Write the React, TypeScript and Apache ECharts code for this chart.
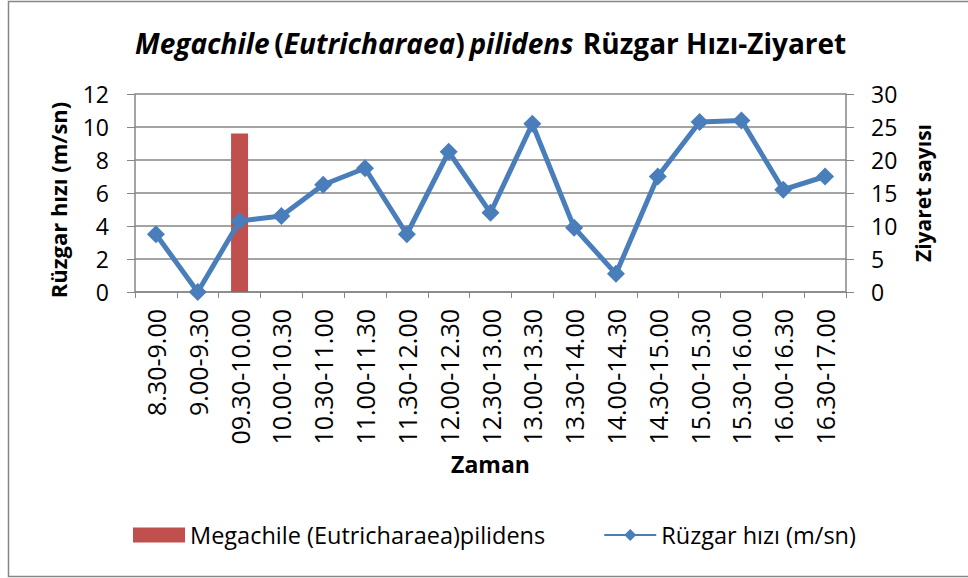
import React, { useEffect, useRef } from "react";
import * as echarts from "echarts";

const categories = [
  "8.30-9.00", "9.00-9.30", "09.30-10.00", "10.00-10.30", "10.30-11.00",
  "11.00-11.30", "11.30-12.00", "12.00-12.30", "12.30-13.00", "13.00-13.30",
  "13.30-14.00", "14.00-14.30", "14.30-15.00", "15.00-15.30", "15.30-16.00",
  "16.00-16.30", "16.30-17.00",
];
const visits: (number | string)[] = [
  "-", "-", 24, "-", "-", "-", "-", "-", "-", "-", "-", "-", "-", "-", "-", "-", "-",
];
const windSpeed = [3.5, 0, 4.3, 4.6, 6.5, 7.5, 3.5, 8.5, 4.8, 10.2, 3.9, 1.1, 7.0, 10.3, 10.4, 6.2, 7.0];
const leftTicks = { min: 0, max: 12, interval: 2 };
const rightTicks = { min: 0, max: 30, interval: 5 };

const FONT = "Open Sans";
const GREY = "#868686";

export default function App() {
  const ref = useRef<HTMLDivElement>(null);
  useEffect(() => {
    if (!ref.current) return;
    const chart = echarts.init(ref.current, null, { renderer: "svg" });
    chart.setOption({
      animation: false,
      backgroundColor: "#fff",
      textStyle: { fontFamily: FONT, color: "#000" },
      title: {
        left: 130,
        top: 24,
        text: "{i|Megachile} {b|(}{i|Eutricharaea}{b|)} {i|pilidens}  {b|Rüzgar Hızı-Ziyaret}",
        textStyle: {
          rich: {
            i: { fontStyle: "italic", fontWeight: "bold", fontSize: 28, fontFamily: FONT, color: "#000" },
            b: { fontWeight: "bold", fontSize: 28, fontFamily: FONT, color: "#000" },
          },
        },
      },
      graphic: [
        {
          type: "rect",
          shape: { x: 8.5, y: 1.5, width: 980, height: 575 },
          style: { fill: "none", stroke: GREY, lineWidth: 1.5 },
          silent: true,
        },
      ],
      legend: {
        left: 133,
        top: 523,
        padding: 0,
        itemWidth: 52,
        itemHeight: 15,
        itemGap: 58,
        textStyle: { fontSize: 23.5, fontFamily: FONT, color: "#000" },
        data: [
          { name: "Megachile (Eutricharaea)pilidens", icon: "rect" },
          { name: "Rüzgar hızı (m/sn)" },
        ],
      },
      grid: { left: 135, right: 122, top: 94, bottom: 286 },
      xAxis: {
        type: "category",
        data: categories,
        boundaryGap: true,
        name: "Zaman",
        nameLocation: "middle",
        nameGap: 160,
        nameTextStyle: { fontWeight: "bold", fontSize: 23, fontFamily: FONT, color: "#000" },
        axisLine: { lineStyle: { color: GREY, width: 1.5 } },
        axisTick: { show: true, length: 6, lineStyle: { color: GREY }, alignWithLabel: false },
        axisLabel: { rotate: 90, fontSize: 25, margin: 17, color: "#000", fontFamily: FONT, interval: 0 },
      },
      yAxis: [
        {
          type: "value",
          ...leftTicks,
          name: "Rüzgar hızı (m/sn)",
          nameLocation: "middle",
          nameRotate: 90,
          nameGap: 66,
          nameTextStyle: { fontWeight: "bold", fontSize: 22, fontFamily: FONT, color: "#000", padding: [0, 14, 0, 0] },
          axisLine: { show: true, lineStyle: { color: GREY, width: 1.5 } },
          axisTick: { show: true, length: 8, lineStyle: { color: GREY } },
          axisLabel: { fontSize: 23, margin: 26, color: "#000", fontFamily: FONT },
          splitLine: { show: true, lineStyle: { color: GREY, width: 1.5 } },
        },
        {
          type: "value",
          ...rightTicks,
          name: "Ziyaret sayısı",
          nameLocation: "middle",
          nameRotate: 90,
          nameGap: 66,
          nameTextStyle: { fontWeight: "bold", fontSize: 21, fontFamily: FONT, color: "#000" },
          axisLine: { show: true, lineStyle: { color: GREY, width: 1.5 } },
          axisTick: { show: true, length: 8, lineStyle: { color: GREY } },
          axisLabel: { fontSize: 23, margin: 25, color: "#000", fontFamily: FONT },
          splitLine: { show: false },
        },
      ],
      series: [
        {
          name: "Megachile (Eutricharaea)pilidens",
          type: "bar",
          yAxisIndex: 1,
          data: visits,
          barWidth: 17,
          itemStyle: { color: "#C0504D" },
        },
        {
          name: "Rüzgar hızı (m/sn)",
          type: "line",
          yAxisIndex: 0,
          data: windSpeed,
          symbol: "diamond",
          symbolSize: 18,
          lineStyle: { color: "#4A7EBB", width: 5 },
          itemStyle: { color: "#4A7EBB" },
          z: 3,
        },
      ],
    });
    return () => chart.dispose();
  }, []);
  return (
    <div
      ref={ref}
      style={{ position: "absolute", left: 0, top: 0, width: 968, height: 578 }}
    />
  );
}
